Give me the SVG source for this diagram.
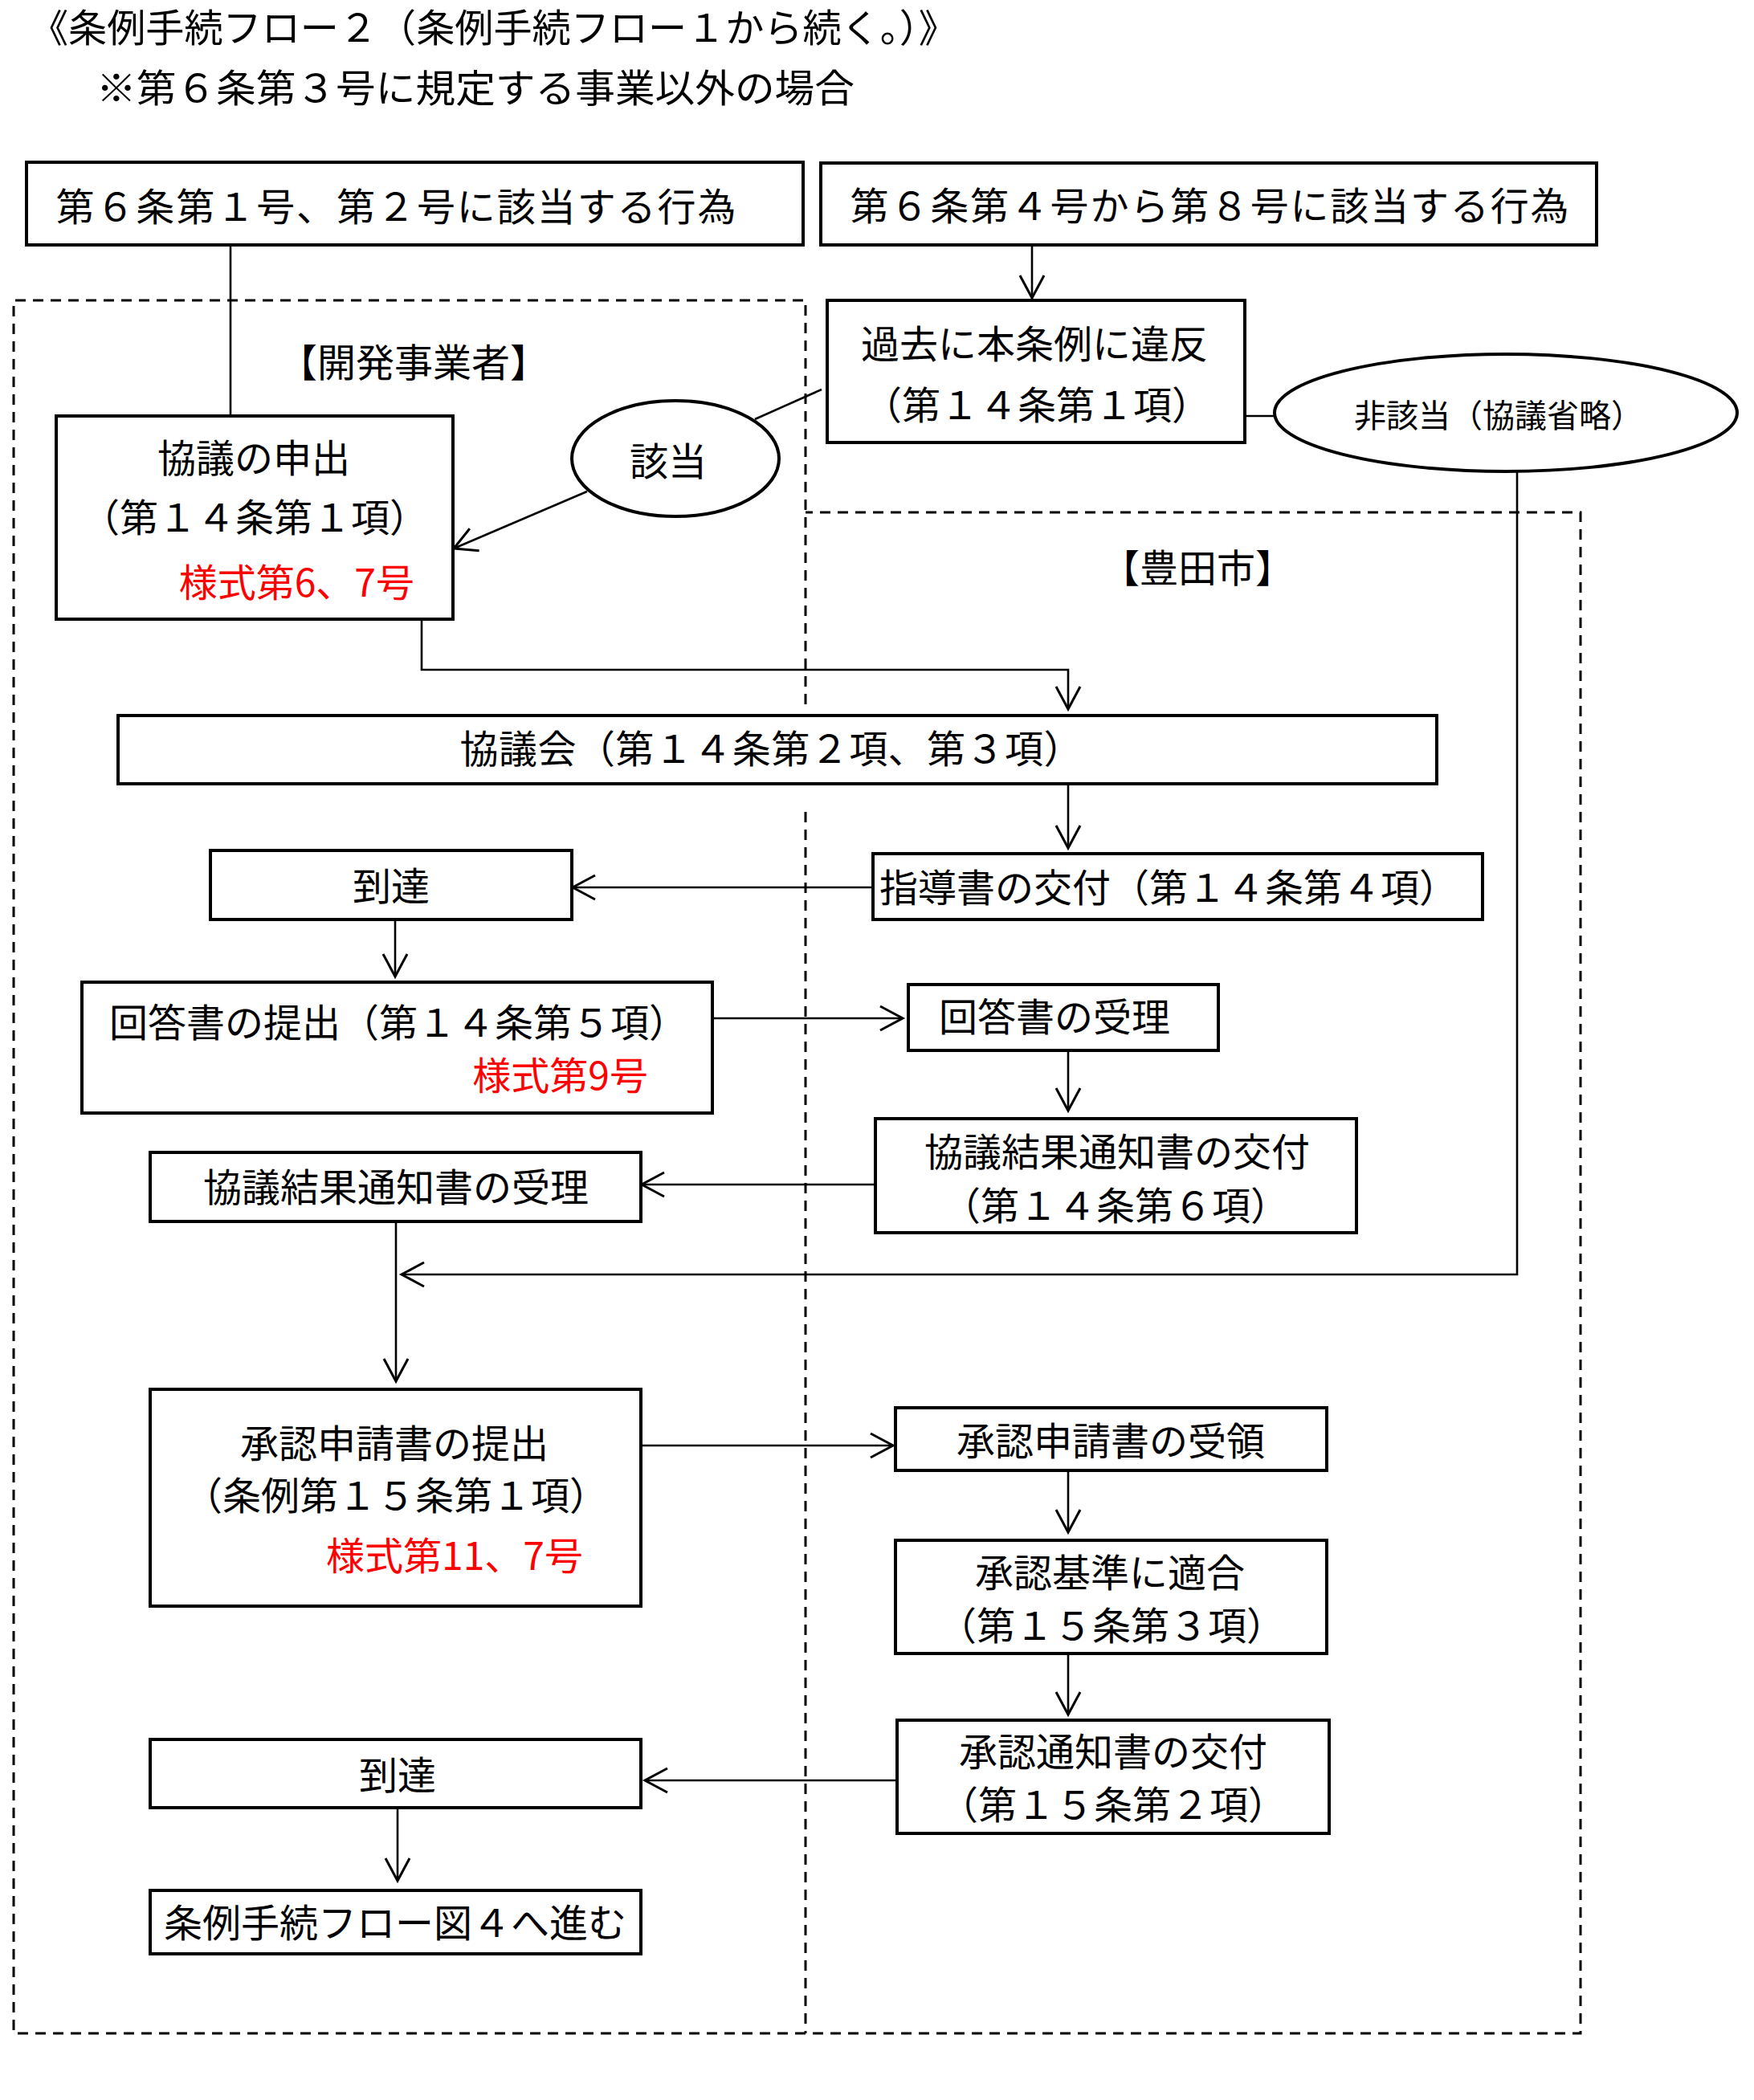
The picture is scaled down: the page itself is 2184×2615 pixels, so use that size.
<svg xmlns="http://www.w3.org/2000/svg" width="2184" height="2615" viewBox="0 0 2184 2615">
<style>
text{font-family:"Noto Sans CJK JP","Noto Sans",sans-serif;font-size:48px;fill:#000}
.m{text-anchor:middle}
.e{text-anchor:end}
.red{fill:#FF0000}
.small{font-size:40px}
.box{fill:#fff;stroke:#000;stroke-width:4}
.ell{fill:#fff;stroke:#000;stroke-width:4}
.con{fill:none;stroke:#000;stroke-width:2.6}
.arr{fill:none;stroke:#000;stroke-width:2.6;marker-end:url(#ah)}
.dash{fill:none;stroke:#000;stroke-width:3;stroke-dasharray:13 9}
</style>
<defs>
<marker id="ah" markerUnits="userSpaceOnUse" markerWidth="40" markerHeight="40" viewBox="-32 -20 40 40" refX="0" refY="0" orient="auto" overflow="visible">
<path d="M-28,-15 L0,0 L-28,15" fill="none" stroke="#000" stroke-width="3"/>
</marker>
</defs>
<rect width="2184" height="2615" fill="#fff"/>

<g id="title">
<text x="37" y="52" textLength="1155" lengthAdjust="spacingAndGlyphs">《条例手続フロー２（条例手続フロー１から続く。）》</text>
<text x="120" y="127" textLength="944" lengthAdjust="spacingAndGlyphs">※第６条第３号に規定する事業以外の場合</text>
</g>

<g id="lanes">
<path class="dash" d="M1003,877 V374 H17 V2532 H1968 V638 H1003"/>
<path class="dash" d="M1003,1011 V2532"/>
<text id="lane-developer" class="m" x="515" y="469">【開発事業者】</text>
<text id="lane-city" class="m" x="1491" y="725">【豊田市】</text>
</g>

<g id="connectors">
<path class="con" d="M287,305 V518"/>
<path class="arr" d="M1285,307 V371"/>
<path class="con" d="M1023,485 L940,522"/>
<path class="arr" d="M731,612 L565,683"/>
<path class="con" d="M1550,518 H1587"/>
<path class="arr" d="M1889,587 V1587 H500"/>
<path class="arr" d="M525,771 V834 H1330 V883"/>
<path class="arr" d="M1330,976 V1056"/>
<path class="arr" d="M1087,1105 H713"/>
<path class="arr" d="M492,1145 V1216"/>
<path class="arr" d="M887,1268 H1124"/>
<path class="arr" d="M1330,1308 V1383"/>
<path class="arr" d="M1090,1475 H799"/>
<path class="arr" d="M493,1521 V1720"/>
<path class="arr" d="M798,1800 H1112"/>
<path class="arr" d="M1330,1831 V1908"/>
<path class="arr" d="M1330,2059 V2135"/>
<path class="arr" d="M1117,2217 H803"/>
<path class="arr" d="M495,2251 V2342"/>
</g>

<g id="n-act12">
<rect class="box" x="33" y="202" width="967" height="103"/>
<text class="m" x="493" y="275" textLength="847" lengthAdjust="spacing">第６条第１号、第２号に該当する行為</text>
</g>

<g id="n-act48">
<rect class="box" x="1022" y="203" width="966" height="102"/>
<text class="m" x="1506" y="274" textLength="895" lengthAdjust="spacing">第６条第４号から第８号に該当する行為</text>
</g>

<g id="n-violation">
<rect class="box" x="1030" y="374" width="520" height="177"/>
<text class="m" x="1288" y="446">過去に本条例に違反</text>
<text class="m" x="1291" y="522">（第１４条第１項）</text>
</g>

<g id="n-applicable">
<ellipse class="ell" cx="841" cy="571" rx="129" ry="72"/>
<text class="m" x="832" y="592">該当</text>
</g>

<g id="n-notapplicable">
<ellipse class="ell" cx="1875" cy="514" rx="288" ry="73"/>
<text class="m small" x="1866" y="532">非該当（協議省略）</text>
</g>

<g id="n-consult-request">
<rect class="box" x="70" y="518" width="494" height="253"/>
<text class="m" x="316" y="588">協議の申出</text>
<text class="m" x="317" y="662">（第１４条第１項）</text>
<text class="e red" x="516" y="743">様式第6、7号</text>
</g>

<g id="n-council">
<rect class="box" x="147" y="891" width="1642" height="85"/>
<text class="m" x="960" y="950" textLength="775" lengthAdjust="spacing">協議会（第１４条第２項、第３項）</text>
</g>

<g id="n-guidance">
<rect class="box" x="1087" y="1063" width="759" height="82"/>
<text class="m" x="1455" y="1123">指導書の交付（第１４条第４項）</text>
</g>

<g id="n-arrival1">
<rect class="box" x="262" y="1059" width="450" height="86"/>
<text class="m" x="487" y="1121">到達</text>
</g>

<g id="n-answer-submit">
<rect class="box" x="102" y="1223" width="785" height="163"/>
<text class="m" x="496" y="1291">回答書の提出（第１４条第５項）</text>
<text class="e red" x="807" y="1357">様式第9号</text>
</g>

<g id="n-answer-receive">
<rect class="box" x="1131" y="1226" width="386" height="82"/>
<text class="m" x="1313" y="1284">回答書の受理</text>
</g>

<g id="n-result-issue">
<rect class="box" x="1090" y="1393" width="599" height="142"/>
<text class="m" x="1391" y="1452">協議結果通知書の交付</text>
<text class="m" x="1389" y="1519">（第１４条第６項）</text>
</g>

<g id="n-result-receive">
<rect class="box" x="187" y="1435" width="611" height="86"/>
<text class="m" x="493" y="1496">協議結果通知書の受理</text>
</g>

<g id="n-approval-submit">
<rect class="box" x="187" y="1730" width="611" height="270"/>
<text class="m" x="491" y="1815">承認申請書の提出</text>
<text class="m" x="493" y="1880">（条例第１５条第１項）</text>
<text class="e red" x="726" y="1955">様式第11、7号</text>
</g>

<g id="n-approval-receive">
<rect class="box" x="1115" y="1753" width="537" height="78"/>
<text class="m" x="1383" y="1812">承認申請書の受領</text>
</g>

<g id="n-approval-criteria">
<rect class="box" x="1115" y="1918" width="537" height="141"/>
<text class="m" x="1382" y="1976">承認基準に適合</text>
<text class="m" x="1384" y="2042">（第１５条第３項）</text>
</g>

<g id="n-approval-issue">
<rect class="box" x="1117" y="2142" width="538" height="141"/>
<text class="m" x="1386" y="2199">承認通知書の交付</text>
<text class="m" x="1386" y="2265">（第１５条第２項）</text>
</g>

<g id="n-arrival2">
<rect class="box" x="187" y="2166" width="611" height="85"/>
<text class="m" x="495" y="2228">到達</text>
</g>

<g id="n-next">
<rect class="box" x="187" y="2354" width="611" height="79"/>
<text class="m" x="492" y="2412">条例手続フロー図４へ進む</text>
</g>
</svg>
